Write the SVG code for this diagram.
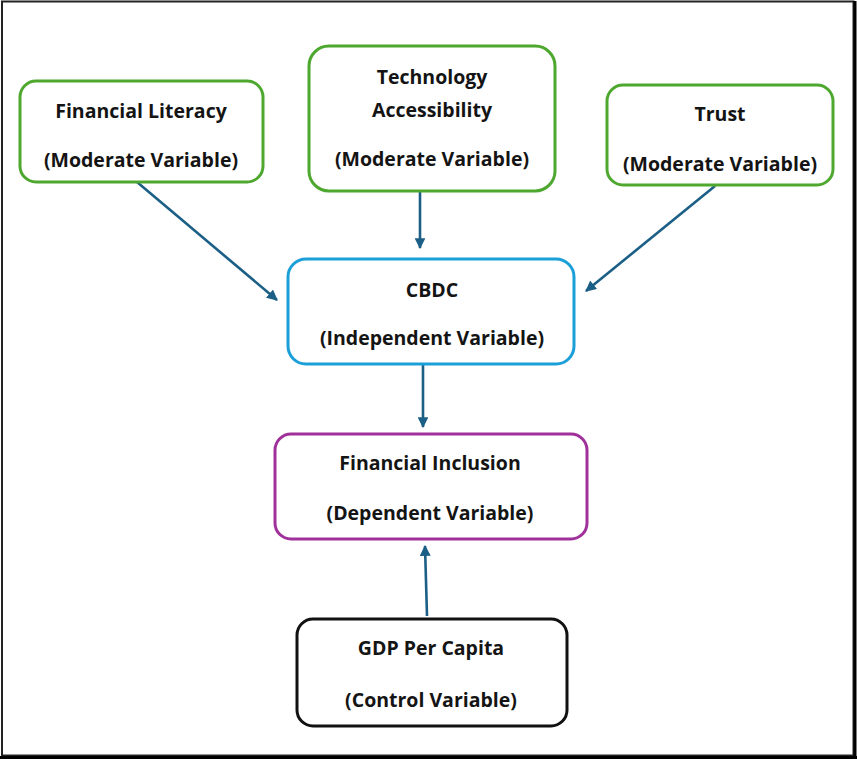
<svg xmlns="http://www.w3.org/2000/svg" width="857" height="759" viewBox="0 0 857 759">
  <defs>
    <style>
      .box { fill: #ffffff; stroke-width: 3; }
      .mod { stroke: #4ea72e; }
      .ind { stroke: #1a9fd8; }
      .dep { stroke: #a0309a; }
      .ctl { stroke: #111111; }
      .lbl { font-family: "Open Sans", "Liberation Sans", sans-serif; font-weight: 700; font-size: 19.5px; fill: #141414; text-anchor: middle; }
      .link { stroke: #1b5f86; stroke-width: 2.6; fill: none; marker-end: url(#head); }
    </style>
    <marker id="head" viewBox="0 0 10 10" refX="9" refY="5" markerWidth="4.2" markerHeight="4.2" orient="auto" markerUnits="strokeWidth">
      <path d="M0,0 L10,5 L0,10 Z" fill="#1b5f86"/>
    </marker>
  </defs>

  <!-- page frame -->
  <rect x="0" y="0" width="857" height="759" fill="#ffffff"/>
  <rect x="2" y="1.5" width="851.5" height="754" fill="none" stroke="#222222" stroke-width="2"/>
  <line x1="855" y1="1" x2="855" y2="759" stroke="#000000" stroke-width="3"/>
  <line x1="0" y1="757.5" x2="857" y2="757.5" stroke="#000000" stroke-width="3"/>

  <!-- connectors -->
  <g id="connectors">
    <line class="link" x1="137" y1="182" x2="277" y2="300"/>
    <line class="link" x1="420" y1="192" x2="420" y2="248"/>
    <line class="link" x1="715" y1="186" x2="586" y2="291"/>
    <line class="link" x1="423" y1="365" x2="423" y2="427"/>
    <line class="link" x1="427" y1="616" x2="425" y2="546"/>
  </g>

  <g id="financial-literacy">
    <rect class="box mod" x="20" y="81" width="243" height="101" rx="16"/>
    <text class="lbl" x="141" y="118">Financial Literacy</text>
    <text class="lbl" x="141" y="167">(Moderate Variable)</text>
  </g>

  <g id="technology-accessibility">
    <rect class="box mod" x="309" y="46" width="246" height="145" rx="20"/>
    <text class="lbl" x="432" y="84">Technology</text>
    <text class="lbl" x="432" y="117">Accessibility</text>
    <text class="lbl" x="432" y="166">(Moderate Variable)</text>
  </g>

  <g id="trust">
    <rect class="box mod" x="607" y="85" width="226" height="100" rx="16"/>
    <text class="lbl" x="720" y="121">Trust</text>
    <text class="lbl" x="720" y="171">(Moderate Variable)</text>
  </g>

  <g id="cbdc">
    <rect class="box ind" x="288" y="259" width="286" height="105" rx="18"/>
    <text class="lbl" x="432" y="297">CBDC</text>
    <text class="lbl" x="432" y="345">(Independent Variable)</text>
  </g>

  <g id="financial-inclusion">
    <rect class="box dep" x="275" y="434" width="312" height="105" rx="16"/>
    <text class="lbl" x="430" y="470">Financial Inclusion</text>
    <text class="lbl" x="430" y="520">(Dependent Variable)</text>
  </g>

  <g id="gdp-per-capita">
    <rect class="box ctl" x="297" y="619" width="270" height="107" rx="16"/>
    <text class="lbl" x="431" y="655">GDP Per Capita</text>
    <text class="lbl" x="431" y="707">(Control Variable)</text>
  </g>
</svg>
